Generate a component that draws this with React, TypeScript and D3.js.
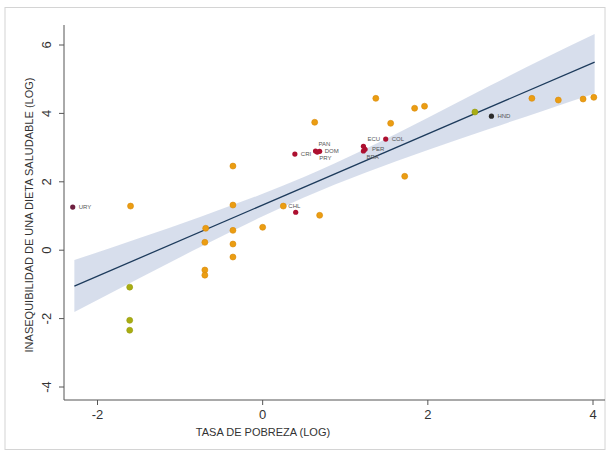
import React from "react";
import * as d3 from "d3";

// ---- data ----
const orangeX = [-1.6, -0.69, -0.7, -0.7, -0.7, -0.36, -0.36, -0.36, -0.36, -0.36, 0.0, 0.25, 0.63, 0.69, 1.37, 1.55, 1.72, 1.84, 1.96, 3.26, 3.58, 3.88, 4.01];
const orangeY = [1.29, 0.64, 0.23, -0.58, -0.73, 2.46, 1.32, 0.58, 0.18, -0.2, 0.67, 1.29, 3.74, 1.02, 4.44, 3.71, 2.16, 4.15, 4.21, 4.44, 4.39, 4.42, 4.47];

const greenX = [-1.61, -1.61, -1.61, 2.57];
const greenY = [-1.08, -2.05, -2.34, 4.04];

const labeledNames = ["URY", "CRI", "PAN", "DOM", "PRY", "ECU", "PER", "BRA", "COL", "CHL", "HND"];
const labeledX = [-2.3, 0.39, 0.64, 0.69, 0.66, 1.22, 1.24, 1.22, 1.49, 0.4, 2.77];
const labeledY = [1.26, 2.81, 2.9, 2.89, 2.87, 3.04, 2.95, 2.9, 3.25, 1.11, 3.92];
const labeledShowText = [true, true, true, true, true, true, true, true, true, false, true];
const labeledGroup = ["ury", "red", "red", "red", "red", "red", "red", "red", "red", "red", "hnd"];

const fitX = [-2.28, 4.02];
const fitY = [-1.05, 5.5];

const bandX = [-2.28, -1.5, -0.75, 0, 0.5, 1.25, 2, 2.75, 3.4, 4.02];
const bandLo = [-1.81, -0.83, 0.1, 0.99, 1.54, 2.27, 2.93, 3.55, 4.08, 4.58];
const bandHi = [-0.29, 0.35, 0.98, 1.65, 2.14, 2.97, 3.87, 4.81, 5.6, 6.32];

const xTicks = [-2, 0, 2, 4];
const yTicks = [-4, -2, 0, 2, 4, 6];

const xTitle = "TASA DE POBREZA (LOG)";
const yTitle = "INASEQUIBILIDAD DE UNA DIETA SALUDABLE (LOG)";

// extra "CHL" label sitting by the orange point near (0.25, 1.29)
const extraLabel = { text: "CHL", x: 0.25, y: 1.29 };

// label placement (style): [dx, dy]
const labelOffsets: Record<string, [number, number]> = {
  URY: [6, 2],
  CRI: [6, 2],
  PAN: [3, -5],
  DOM: [5, 2],
  PRY: [2, 8],
  ECU: [4, -5],
  PER: [7, 2],
  BRA: [3, 8],
  COL: [6, 2],
  HND: [6, 2],
};

const W = 609;
const H = 453;

export default function App() {
  const x = d3.scaleLinear().domain([-2, 4]).range([97.5, 593]);
  const y = d3.scaleLinear().domain([-4, 6]).range([387, 45]);

  const axisLeft = 64;
  const axisBottom = 400;
  const axisTop = 25;
  const axisRight = 605;

  const bandPts = bandX.map((v, i) => ({ x: v, lo: bandLo[i], hi: bandHi[i] }));
  const area = d3
    .area<{ x: number; lo: number; hi: number }>()
    .x((d) => x(d.x))
    .y0((d) => y(d.lo))
    .y1((d) => y(d.hi))
    .curve(d3.curveMonotoneX);

  const line = d3
    .line<[number, number]>()
    .x((d) => x(d[0]))
    .y((d) => y(d[1]));
  const fitPts: [number, number][] = fitX.map((v, i) => [v, fitY[i]]);

  const groupColor: Record<string, string> = {
    ury: "#6e1f3f",
    red: "#ad1030",
    hnd: "#2b2b2b",
  };

  const font = "'Liberation Sans', Arial, sans-serif";

  return (
    <div style={{ position: "absolute", left: 0, top: 0 }}>
      <svg width={W} height={H} style={{ display: "block", background: "#fff" }}>
        <rect x={5} y={7.5} width={600} height={442} fill="#fff" stroke="#d4d4d4" strokeWidth={1} />
        {/* CI band */}
        <path d={area(bandPts) || ""} fill="#cad3e5" fillOpacity={0.75} stroke="none" />
        {/* fit line */}
        <path d={line(fitPts) || ""} fill="none" stroke="#1d3b5c" strokeWidth={1.3} />

        {/* orange points */}
        {orangeX.map((v, i) => (
          <circle key={"o" + i} cx={x(v)} cy={y(orangeY[i])} r={3} fill="#eb9d12" stroke="#d98a0a" strokeWidth={0.6} />
        ))}
        {/* yellow-green points */}
        {greenX.map((v, i) => (
          <circle key={"g" + i} cx={x(v)} cy={y(greenY[i])} r={3} fill="#a9ad12" stroke="#979c10" strokeWidth={0.6} />
        ))}
        {/* labeled points */}
        {labeledNames.map((n, i) => (
          <g key={"l" + i}>
            <circle cx={x(labeledX[i])} cy={y(labeledY[i])} r={2.6} fill={groupColor[labeledGroup[i]]} />
            {labeledShowText[i] && (
              <text
                x={x(labeledX[i]) + (labelOffsets[n] ? labelOffsets[n][0] : 6)}
                y={y(labeledY[i]) + (labelOffsets[n] ? labelOffsets[n][1] : 2)}
                fontSize={6}
                fontFamily={font}
                fill="#555"
              >
                {n}
              </text>
            )}
          </g>
        ))}
        <text x={x(extraLabel.x) + 5} y={y(extraLabel.y) + 2} fontSize={6} fontFamily={font} fill="#555">
          {extraLabel.text}
        </text>

        {/* axes */}
        <line x1={axisLeft} x2={axisLeft} y1={axisTop} y2={axisBottom} stroke="#555" strokeWidth={1} />
        <line x1={axisLeft} x2={axisRight} y1={axisBottom} y2={axisBottom} stroke="#555" strokeWidth={1} />
        {yTicks.map((t) => (
          <g key={"yt" + t}>
            <line x1={axisLeft - 5} x2={axisLeft} y1={y(t)} y2={y(t)} stroke="#555" />
            <text
              transform={`translate(${axisLeft - 13},${y(t)}) rotate(-90)`}
              textAnchor="middle"
              fontSize={13}
              fontFamily={font}
              fill="#333"
            >
              {t}
            </text>
          </g>
        ))}
        {xTicks.map((t) => (
          <g key={"xt" + t}>
            <line x1={x(t)} x2={x(t)} y1={axisBottom} y2={axisBottom + 5} stroke="#555" />
            <text x={x(t)} y={axisBottom + 19} textAnchor="middle" fontSize={13} fontFamily={font} fill="#333">
              {t}
            </text>
          </g>
        ))}
        <text x={263} y={436} textAnchor="middle" fontSize={11} fontFamily={font} fill="#333">
          {xTitle}
        </text>
        <text
          transform={`translate(33,${215}) rotate(-90)`}
          textAnchor="middle"
          fontSize={11}
          fontFamily={font}
          fill="#333"
        >
          {yTitle}
        </text>
      </svg>
    </div>
  );
}
